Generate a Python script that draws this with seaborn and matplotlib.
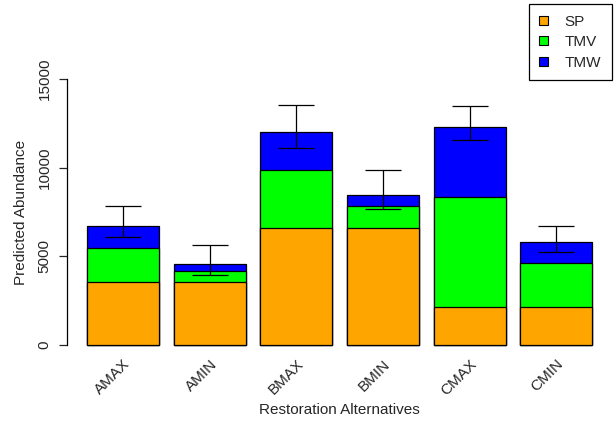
import matplotlib
matplotlib.use("Agg")
import matplotlib.pyplot as plt
from matplotlib.patches import Patch
import numpy as np
import pandas as pd
import seaborn as sns

# values
alternatives = ["AMAX", "AMIN", "BMAX", "BMIN", "CMAX", "CMIN"]
sp = [3550, 3550, 6600, 6600, 2140, 2140]
tmv = [1920, 640, 3250, 1220, 6200, 2480]
tmw = [1240, 390, 2170, 640, 3950, 1170]
err_low = [6090, 3930, 11120, 7650, 11540, 5260]
err_high = [7840, 5620, 13550, 9870, 13470, 6690]

series = ["SP", "TMV", "TMW"]
colors = {"SP": "orange", "TMV": "#00ff00", "TMW": "blue"}

df = pd.DataFrame({"alt": alternatives, "SP": sp, "TMV": tmv, "TMW": tmw})
df["cum_SP"] = df["SP"]
df["cum_TMV"] = df["cum_SP"] + df["TMV"]
df["cum_TMW"] = df["cum_TMV"] + df["TMW"]

sns.set_theme(style="white")
plt.rcParams["font.family"] = ["Liberation Sans", "DejaVu Sans"]
plt.rcParams["font.size"] = 11

fig = plt.figure(figsize=(6.14, 4.26), dpi=100)
ax = fig.add_axes([0.1088, 0.1653, 0.8889, 0.6741])

# stacked bars: draw totals first, then smaller cumulative sums on top
for s in reversed(series):
    sns.barplot(data=df, x="alt", y=f"cum_{s}", color=colors[s], saturation=1,
                width=0.833, edgecolor="black", linewidth=0.9, ax=ax)

totals = df["cum_TMW"].to_numpy()
lo = totals - np.array(err_low)
hi = np.array(err_high) - totals
ax.errorbar(np.arange(len(alternatives)), totals, yerr=[lo, hi], fmt="none",
            ecolor="black", elinewidth=0.9, capsize=13, capthick=0.9)

ax.set_xlim(-0.65, 5.65)
ax.set_ylim(-600, 15600)
ax.set_yticks([0, 5000, 10000, 15000])
ax.set_yticklabels(["0", "5000", "10000", "15000"], rotation=90, va="center")
ax.tick_params(axis="y", length=6, width=0.9, pad=5, labelsize=11, left=True)
ax.tick_params(axis="x", length=0, pad=1, labelsize=11)
plt.setp(ax.get_xticklabels(), rotation=45, ha="right", rotation_mode="anchor")

for side in ["top", "right", "bottom"]:
    ax.spines[side].set_visible(False)
ax.spines["left"].set_bounds(0, 15000)
ax.spines["left"].set_color("black")
ax.spines["left"].set_linewidth(0.9)

ax.set_xlabel("Restoration Alternatives", fontsize=11)
ax.set_ylabel("Predicted Abundance", fontsize=11)
ax.xaxis.set_label_coords(0.5, -0.165)
ax.yaxis.set_label_coords(-0.072, 0.5)

handles = [Patch(facecolor=colors[s], edgecolor="black", linewidth=0.8, label=s)
           for s in series]
leg = fig.legend(handles=handles, loc="upper right", bbox_to_anchor=(0.9962, 0.9906),
                 borderaxespad=0, fancybox=False, edgecolor="black", framealpha=1,
                 fontsize=11, handlelength=0.55, handleheight=0.55, handletextpad=1.1,
                 labelspacing=0.42, borderpad=0.7)
leg.get_frame().set_linewidth(0.9)

fig.savefig("out.png", dpi=100)
